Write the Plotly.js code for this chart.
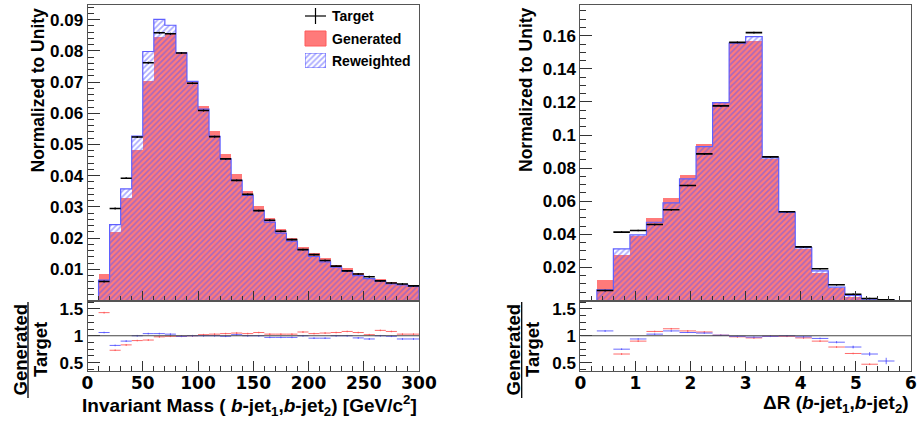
<!DOCTYPE html>
<html>
<head>
<meta charset="utf-8">
<script src="https://cdn.plot.ly/plotly-3.0.1.min.js"></script>
<style>
html,body{margin:0;padding:0;background:#fff;}
#chart{width:919px;height:426px;}
</style>
</head>
<body>
<div id="chart"></div>
<script>
// ---------- data: invariant mass (bin centres, GeV/c^2; bin width 10) ----------
var massCenters = [15,25,35,45,55,65,75,85,95,105,115,125,135,145,155,165,175,185,195,205,215,225,235,245,255,265,275,285,295];
var massTarget = [0.0061,0.0295,0.0392,0.0524,0.0762,0.0858,0.0855,0.0793,0.0696,0.0609,0.0525,0.0454,0.0385,0.0340,0.0288,0.0257,0.0222,0.0195,0.0163,0.0147,0.0128,0.0110,0.0095,0.0085,0.0076,0.0063,0.0056,0.0053,0.0047];
var massGenerated = [0.0086,0.0219,0.0330,0.0481,0.0702,0.0846,0.0856,0.0795,0.0705,0.0622,0.0542,0.0468,0.0406,0.0351,0.0304,0.0265,0.0230,0.0201,0.0172,0.0151,0.0135,0.0115,0.0103,0.0089,0.0073,0.0068,0.0060,0.0054,0.0048];
var massReweighted = [0.0065,0.0243,0.0358,0.0527,0.0798,0.0901,0.0882,0.0794,0.0702,0.0613,0.0526,0.0454,0.0385,0.0337,0.0288,0.0251,0.0216,0.0190,0.0163,0.0141,0.0124,0.0107,0.0093,0.0080,0.0070,0.0062,0.0053,0.0050,0.0045];
var massRatioGen = [1.43,0.73,0.83,0.91,0.92,0.98,0.99,0.99,1.00,1.02,1.03,1.04,1.05,1.04,1.06,1.03,1.03,1.03,1.07,1.04,1.05,1.06,1.08,1.06,1.02,1.10,1.08,1.03,1.03];
var massRatioRew = [1.06,0.82,0.90,1.00,1.04,1.04,1.03,0.99,1.00,1.00,1.00,0.99,1.02,1.00,1.00,0.97,0.97,0.97,1.00,0.955,0.955,1.00,1.00,0.96,0.94,1.00,0.99,0.94,0.94];

// ---------- data: delta R (bin centres; bin width 0.3) ----------
var drCenters = [0.45,0.75,1.05,1.35,1.65,1.95,2.25,2.55,2.85,3.15,3.45,3.75,4.05,4.35,4.65,4.95,5.25,5.55];
var drTarget = [0.0060,0.0413,0.0423,0.0459,0.0548,0.0695,0.0886,0.1176,0.1560,0.1619,0.0868,0.0536,0.0324,0.0192,0.0095,0.0038,0.0012,0.0004];
var drGenerated = [0.0121,0.0278,0.0387,0.0497,0.0620,0.0761,0.0947,0.1202,0.1555,0.1567,0.0856,0.0530,0.0312,0.0169,0.0074,0.0024,0.0006,0.0000];
var drReweighted = [0.0065,0.0312,0.0397,0.0473,0.0590,0.0735,0.0930,0.1196,0.1555,0.1595,0.0862,0.0532,0.0320,0.0179,0.0081,0.0031,0.0008,0.0002];
var drRatioGen = [null,0.66,0.90,1.08,1.13,1.09,1.07,1.01,0.98,0.96,0.99,0.99,0.96,0.90,0.79,0.67,0.47,null];
var drRatioRew = [1.09,0.75,0.94,1.03,1.09,1.06,1.05,1.01,0.99,0.975,0.99,1.00,0.98,0.95,0.88,0.79,0.66,0.53];
var drRatioRewErr = [0.015,0.015,0.012,0.012,0.012,0.01,0.01,0.008,0.008,0.008,0.01,0.01,0.012,0.015,0.02,0.025,0.035,0.06];

var MASS_W = 10, DR_W = 0.3;

var RED_FILL = 'rgb(255,122,122)';
var BLUE = 'rgb(95,95,255)';
var HATCH = {shape:'/', fgcolor:'rgb(85,85,255)', bgcolor:'rgba(0,0,0,0)', size:4, solidity:0.45, fillmode:'overlay'};

function stepOutline(centers, vals, w) {
  var xs = [centers[0]-w/2], ys = [0];
  for (var i=0;i<centers.length;i++){ xs.push(centers[i]-w/2); ys.push(vals[i]); }
  xs.push(centers[centers.length-1]+w/2); ys.push(vals[vals.length-1]);
  xs.push(centers[centers.length-1]+w/2); ys.push(0);
  return {x:xs, y:ys};
}

function histTraces(centers, gen, rew, tgt, w, xa, ya, tErr) {
  var so = stepOutline(centers, rew, w);
  return [
    {type:'bar', x:centers, y:gen, width:w, xaxis:xa, yaxis:ya,
     marker:{color:RED_FILL, line:{width:0}}, showlegend:false, hoverinfo:'skip'},
    {type:'bar', x:centers, y:rew, width:w, xaxis:xa, yaxis:ya,
     marker:{color:'rgba(0,0,0,0)', pattern:HATCH, line:{width:0}}, showlegend:false, hoverinfo:'skip'},
    {type:'scatter', mode:'lines', x:so.x, y:so.y, xaxis:xa, yaxis:ya,
     line:{color:BLUE, width:1.2, shape:'hv'}, showlegend:false, hoverinfo:'skip'},
    {type:'scatter', mode:'markers', x:centers, y:tgt, xaxis:xa, yaxis:ya,
     marker:{size:1, color:'#000'},
     error_x:{type:'constant', value:w/2, width:0, thickness:1.6, color:'#000'},
     error_y:{type:'constant', value:tErr, width:0, thickness:1.2, color:'#000'},
     showlegend:false, hoverinfo:'skip'}
  ];
}

function ratioTraces(centers, rg, rr, w, xa, ya, rrErr) {
  return [
    {type:'scatter', mode:'markers', x:centers, y:rg, xaxis:xa, yaxis:ya,
     marker:{size:1, color:'rgb(255,90,90)'},
     error_x:{type:'constant', value:w/2, width:0, thickness:1, color:'rgba(255,80,80,0.85)'},
     error_y:{type:'constant', value:0.015, width:0, thickness:1, color:'rgba(255,80,80,0.85)'},
     showlegend:false, hoverinfo:'skip'},
    {type:'scatter', mode:'markers', x:centers, y:rr, xaxis:xa, yaxis:ya,
     marker:{size:1, color:'rgb(90,90,255)'},
     error_x:{type:'constant', value:w/2, width:0, thickness:1, color:'rgba(80,80,255,0.85)'},
     error_y: rrErr ? {type:'data', array:rrErr, width:0, thickness:1, color:'rgba(80,80,255,0.85)'}
                    : {type:'constant', value:0.015, width:0, thickness:1, color:'rgba(80,80,255,0.85)'},
     showlegend:false, hoverinfo:'skip'}
  ];
}

var traces = [];
traces = traces.concat(histTraces(massCenters, massGenerated, massReweighted, massTarget, MASS_W, 'x', 'y', 0.0003));
traces = traces.concat(ratioTraces(massCenters, massRatioGen, massRatioRew, MASS_W, 'x2', 'y2', null));
traces = traces.concat(histTraces(drCenters, drGenerated, drReweighted, drTarget, DR_W, 'x3', 'y3', 0.0005));
traces = traces.concat(ratioTraces(drCenters, drRatioGen, drRatioRew, DR_W, 'x4', 'y4', drRatioRewErr));
// legend swatch for "Reweighted" (hatched box)
traces.push({type:'bar', x:[0.5], y:[1], width:1, xaxis:'x5', yaxis:'y5',
  marker:{color:'rgba(0,0,0,0)', pattern:HATCH, line:{color:BLUE, width:1}}, showlegend:false, hoverinfo:'skip'});

var W = 919, H = 426;
function px(v){ return v/W; }
function py(v){ return (H-v)/H; }

var LX = [px(87.5), px(419)];
var RX = [px(580.3), px(911)];
var MAIN_Y = [py(300.5), py(5.3)];
var RAT_Y = [py(371), py(300.5)];

var TICKC = '#333', LINEC = '#555';
var yTickFont = {family:'Liberation Sans, Arial, sans-serif', size:17, color:'#000', weight:'bold'};
var xTickFont = {family:'DejaVu Sans, sans-serif', size:17, color:'#000', weight:'bold'};

function mainX(domain, range, dtick, minor, anchor){
  return {domain:domain, range:range, anchor:anchor, showticklabels:false, ticks:'inside', ticklen:10,
    tickcolor:TICKC, dtick:dtick, tick0:0, minor:{ticks:'inside', ticklen:5, dtick:minor, tick0:0, tickcolor:TICKC, showgrid:false},
    showline:true, mirror:true, linecolor:LINEC, linewidth:1, showgrid:false, zeroline:false};
}
function ratioX(domain, range, dtick, minor, anchor){
  return {domain:domain, range:range, anchor:anchor, ticks:'inside', ticklen:10, tickcolor:TICKC,
    dtick:dtick, tick0:0, minor:{ticks:'inside', ticklen:5, dtick:minor, tick0:0, tickcolor:TICKC, showgrid:false},
    ticklabelstandoff:-3,
    tickfont:xTickFont, showline:true, mirror:true, linecolor:LINEC, linewidth:1, showgrid:false, zeroline:false};
}
function mainY(domain, range, tickvals, ticktext, minor, anchor){
  return {domain:domain, range:range, anchor:anchor, tickvals:tickvals, ticktext:ticktext, ticks:'inside', ticklen:12,
    tickcolor:TICKC, minor:{ticks:'inside', ticklen:6, dtick:minor, tick0:0, tickcolor:TICKC, showgrid:false},
    tickfont:yTickFont, showline:true, mirror:true, linecolor:LINEC, linewidth:1, showgrid:false, zeroline:false};
}
function ratioY(domain, anchor){
  return {domain:domain, range:[0.344,1.656], anchor:anchor, tickvals:[0.5,1,1.5], ticktext:['0.5','1','1.5'],
    ticks:'inside', ticklen:12, tickcolor:TICKC,
    minor:{ticks:'inside', ticklen:6, tickvals:[0.375,0.625,0.75,0.875,1.125,1.25,1.375,1.625], tickcolor:TICKC, showgrid:false},
    tickfont:yTickFont, showline:true, mirror:true, linecolor:LINEC, linewidth:1, showgrid:false, zeroline:false};
}

var titleFont = {family:'Liberation Sans, Arial, sans-serif', size:17.5, color:'#000', weight:'bold'};
var fracFont = {family:'Liberation Sans, Arial, sans-serif', size:18.5, color:'#000', weight:'bold'};
var xTitleFont = {family:'Liberation Sans, Arial, sans-serif', size:19, color:'#000', weight:'bold'};
var legFont = {family:'Liberation Sans, Arial, sans-serif', size:14, color:'#000', weight:'bold'};

var layout = {
  width:W, height:H, margin:{l:0,r:0,t:0,b:0}, paper_bgcolor:'#fff', plot_bgcolor:'#fff',
  barmode:'overlay', bargap:0, showlegend:false,
  xaxis: mainX(LX, [0,300], 50, 10, 'y'),
  yaxis: mainY(MAIN_Y, [0,0.0946], [0.01,0.02,0.03,0.04,0.05,0.06,0.07,0.08,0.09],
               ['0.01','0.02','0.03','0.04','0.05','0.06','0.07','0.08','0.09'], 0.002, 'x'),
  xaxis2: ratioX(LX, [0,300], 50, 10, 'y2'),
  yaxis2: ratioY(RAT_Y, 'x2'),
  xaxis3: mainX(RX, [0,6], 1, 0.2, 'y3'),
  yaxis3: mainY(MAIN_Y, [0,0.1784], [0.02,0.04,0.06,0.08,0.1,0.12,0.14,0.16],
               ['0.02','0.04','0.06','0.08','0.1','0.12','0.14','0.16'], 0.005, 'x3'),
  xaxis4: ratioX(RX, [0,6], 1, 0.2, 'y4'),
  yaxis4: ratioY(RAT_Y, 'x4'),
  xaxis5: {domain:[px(305), px(326)], range:[0,1], anchor:'y5', visible:false, fixedrange:true},
  yaxis5: {domain:[py(68), py(53)], range:[0,1], anchor:'x5', visible:false, fixedrange:true},
  shapes: [
    {type:'line', xref:'x2', yref:'y2', x0:0, x1:300, y0:1, y1:1, line:{color:'#444', width:1}},
    {type:'line', xref:'x4', yref:'y4', x0:0, x1:6, y0:1, y1:1, line:{color:'#444', width:1}},
    // legend: Target cross
    {type:'line', xref:'paper', yref:'paper', x0:px(305), x1:px(326), y0:py(16), y1:py(16), line:{color:'#000', width:1.2}},
    {type:'line', xref:'paper', yref:'paper', x0:px(315.5), x1:px(315.5), y0:py(8), y1:py(24), line:{color:'#000', width:1.2}},
    // legend: Generated box
    {type:'rect', xref:'paper', yref:'paper', x0:px(305), x1:px(326), y0:py(46), y1:py(31), fillcolor:RED_FILL, line:{color:'rgb(255,90,90)', width:1}},
    // fraction bars
    {type:'line', xref:'paper', yref:'paper', x0:px(28), x1:px(28), y0:py(302), y1:py(398), line:{color:'#000', width:1.3}},
    {type:'line', xref:'paper', yref:'paper', x0:px(521.7), x1:px(521.7), y0:py(302), y1:py(398), line:{color:'#000', width:1.3}}
  ],
  annotations: [
    {text:'Target', xref:'paper', yref:'paper', x:px(330), y:py(16), xanchor:'left', yanchor:'middle', showarrow:false, font:legFont},
    {text:'Generated', xref:'paper', yref:'paper', x:px(330), y:py(38.5), xanchor:'left', yanchor:'middle', showarrow:false, font:legFont},
    {text:'Reweighted', xref:'paper', yref:'paper', x:px(330), y:py(60.5), xanchor:'left', yanchor:'middle', showarrow:false, font:legFont},
    {text:'Normalized to Unity', xref:'paper', yref:'paper', x:px(37.5), y:py(90), xanchor:'center', yanchor:'middle', textangle:-90, showarrow:false, font:titleFont},
    {text:'Normalized to Unity', xref:'paper', yref:'paper', x:px(526), y:py(90), xanchor:'center', yanchor:'middle', textangle:-90, showarrow:false, font:titleFont},
    {text:'Generated', xref:'paper', yref:'paper', x:px(19.5), y:py(350), xanchor:'center', yanchor:'middle', textangle:-90, showarrow:false, font:fracFont},
    {text:'Target', xref:'paper', yref:'paper', x:px(40), y:py(350), xanchor:'center', yanchor:'middle', textangle:-90, showarrow:false, font:fracFont},
    {text:'Generated', xref:'paper', yref:'paper', x:px(512.5), y:py(350), xanchor:'center', yanchor:'middle', textangle:-90, showarrow:false, font:fracFont},
    {text:'Target', xref:'paper', yref:'paper', x:px(532), y:py(350), xanchor:'center', yanchor:'middle', textangle:-90, showarrow:false, font:fracFont},
    {text:'Invariant Mass ( <i>b</i>-jet<sub>1</sub>,<i>b</i>-jet<sub>2</sub>) [GeV/c<sup>2</sup>]', xref:'paper', yref:'paper', x:px(419), y:py(405.5), xanchor:'right', yanchor:'middle', showarrow:false, font:xTitleFont},
    {text:'\u0394R (<i>b</i>-jet<sub>1</sub>,<i>b</i>-jet<sub>2</sub>)', xref:'paper', yref:'paper', x:px(911), y:py(404), xanchor:'right', yanchor:'middle', showarrow:false, font:xTitleFont}
  ]
};

Plotly.newPlot('chart', traces, layout, {staticPlot:true, displayModeBar:false});
</script>
</body>
</html>
